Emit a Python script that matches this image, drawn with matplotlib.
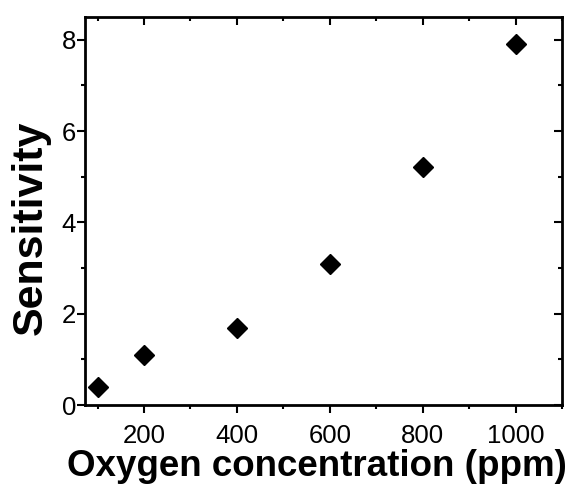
import matplotlib
matplotlib.use("Agg")
import matplotlib.pyplot as plt
from matplotlib.ticker import MultipleLocator
from matplotlib import lines as mlines

oxygen_ppm = [100, 200, 400, 600, 800, 1000]
sensitivity = [0.40, 1.09, 1.68, 3.09, 5.21, 7.90]

plt.rcParams['font.family'] = ['Liberation Sans', 'DejaVu Sans']

fig = plt.figure(figsize=(5.81, 4.84), dpi=100)
ax = fig.add_axes([0.1463, 0.1632, 0.9673 - 0.1463, 0.9649 - 0.1632])

ax.plot(oxygen_ppm, sensitivity, linestyle='none', marker='D', markersize=10,
        color='black')

ax.set_xlim(73, 1100)
ax.set_ylim(0, 8.5)
ax.xaxis.set_major_locator(MultipleLocator(200))
ax.xaxis.set_minor_locator(MultipleLocator(100))
ax.yaxis.set_major_locator(MultipleLocator(2))
ax.yaxis.set_minor_locator(MultipleLocator(1))

for s in ax.spines.values():
    s.set_linewidth(2)

ax.tick_params(axis='both', which='major', direction='out', length=5.5, width=1.5,
               labelsize=18.5)
ax.tick_params(axis='x', which='major', pad=8)
ax.tick_params(axis='y', which='major', pad=1)
ax.tick_params(axis='both', which='minor', direction='out', length=3, width=1.5)
ax.tick_params(axis='x', which='both', top=True)
ax.tick_params(axis='y', which='both', right=True)
for t in ax.xaxis.get_major_ticks() + ax.xaxis.get_minor_ticks():
    t.tick2line.set_marker(mlines.TICKDOWN)
for t in ax.yaxis.get_major_ticks() + ax.yaxis.get_minor_ticks():
    t.tick2line.set_marker(mlines.TICKLEFT)

ax.set_xlabel('Oxygen concentration (ppm)', fontsize=26.5, fontweight='bold', labelpad=1)
ax.xaxis.label.set_x(0.487)
ax.set_ylabel('Sensitivity', fontsize=31, fontweight='bold', labelpad=8)
ax.yaxis.label.set_y(0.456)

fig.savefig('out.png', dpi=100)
